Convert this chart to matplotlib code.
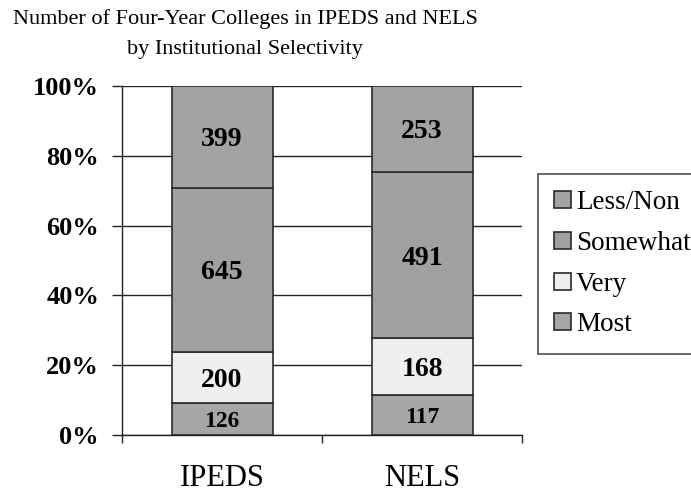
import numpy as np
import matplotlib
matplotlib.use('Agg')
from matplotlib import pyplot as plt
from matplotlib.ticker import PercentFormatter

plt.rcParams['font.family'] = ['Liberation Serif', 'DejaVu Serif']

SOURCES = ["IPEDS", "NELS"]
# stacked from bottom to top
LEVELS = ["Most", "Very", "Somewhat", "Less/Non"]
COUNTS = {
    "Most": [126, 117],
    "Very": [200, 168],
    "Somewhat": [645, 491],
    "Less/Non": [399, 253],
}
COLORS = {
    "Most": "#a6a6a6",
    "Very": "#efefef",
    "Somewhat": "#a0a0a0",
    "Less/Non": "#a3a3a3",
}
LABEL_SIZES = {"Most": 17, "Very": 20, "Somewhat": 20, "Less/Non": 20}
Y_TICKS = [0, 20, 40, 60, 80, 100]

fig = plt.figure(figsize=(6.91, 4.93), dpi=100)
ax = fig.add_axes([122 / 691, 1 - 435 / 493, 400 / 691, 349 / 493])

totals = np.sum([COUNTS[lvl] for lvl in LEVELS], axis=0)
x = np.arange(len(SOURCES))
bottom = np.zeros(len(SOURCES))
handles = {}
for lvl in LEVELS:
    share = np.array(COUNTS[lvl]) / totals * 100
    bars = ax.bar(x, share, width=0.505, bottom=bottom, color=COLORS[lvl],
                  edgecolor="#2a2a2a", linewidth=1.2, zorder=3, label=lvl)
    handles[lvl] = bars
    for xi, b, h, n in zip(x, bottom, share, COUNTS[lvl]):
        ax.text(xi, b + h / 2, str(n), ha="center", va="center_baseline",
                fontsize=LABEL_SIZES[lvl], fontweight="bold", zorder=4)
    bottom += share

ax.set_xlim(-0.5, 1.5)
ax.set_ylim(0, 100)
ax.set_yticks(Y_TICKS)
ax.yaxis.set_major_formatter(PercentFormatter(decimals=0))
ax.tick_params(axis="y", length=7.5, width=1, color="#222222", pad=9,
               labelsize=19)
for lbl in ax.get_yticklabels():
    lbl.set_fontweight("bold")
ax.yaxis.grid(True, color="#222222", linewidth=1, zorder=0)
ax.set_axisbelow(True)

ax.set_xticks([-0.5, 0.5, 1.5])
ax.set_xticklabels([])
ax.tick_params(axis="x", which="major", length=6, width=1, color="#222222")
ax.set_xticks(x, minor=True)
ax.set_xticklabels(SOURCES, minor=True, fontsize=22)
ax.tick_params(axis="x", which="minor", length=0, pad=21)

for side in ("top", "right"):
    ax.spines[side].set_visible(False)
for side in ("left", "bottom"):
    ax.spines[side].set_color("#222222")
    ax.spines[side].set_linewidth(1)

fig.text(245 / 691, 1 - 34 / 493,
         "Number of Four-Year Colleges in IPEDS and NELS\nby Institutional Selectivity",
         ha="center", va="center", fontsize=16, linespacing=1.75)

leg_order = ["Less/Non", "Somewhat", "Very", "Most"]
leg = fig.legend([handles[k] for k in leg_order], leg_order,
                 loc="upper left", bbox_to_anchor=(538 / 691, 1 - 174 / 493),
                 fontsize=19.5, frameon=True, fancybox=False, borderaxespad=0,
                 handlelength=0.6, handleheight=0.6, handletextpad=0.2,
                 labelspacing=0.58, borderpad=0.6)
leg.get_frame().set_edgecolor("#222222")
leg.get_frame().set_linewidth(1.2)

fig.savefig("out.png", dpi=100)
